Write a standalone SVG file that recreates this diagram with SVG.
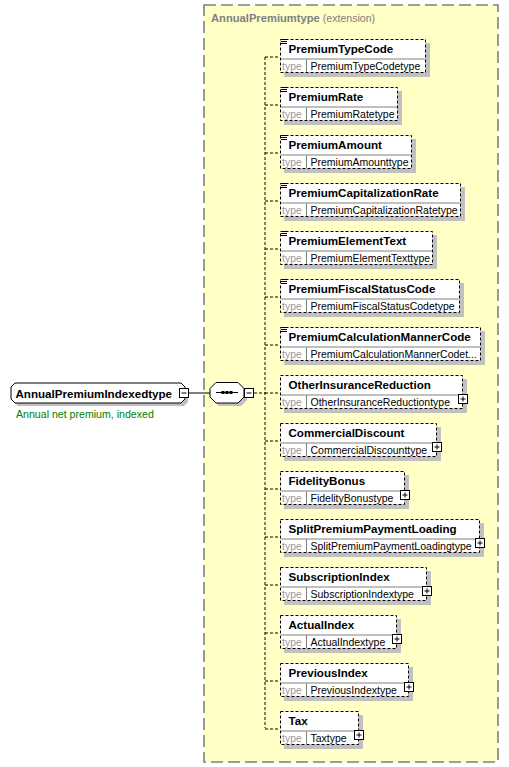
<svg xmlns="http://www.w3.org/2000/svg" width="509" height="767" viewBox="0 0 509 767">
<style>
text{font-family:"Liberation Sans",Arial,sans-serif}
.bg{fill:#fff}
.ext{fill:#FFFFC6;stroke:#808080;stroke-width:1.6;stroke-dasharray:12 5}
.title{font-size:11.2px;font-weight:bold;fill:#808080}
.titlex{font-size:10.6px;fill:#808080}
.sh{fill:#c0c0c0}
.box{fill:#fff;stroke:#000;stroke-width:1;stroke-dasharray:3 2}
.sep{stroke:#808080;stroke-width:1;fill:none}
.name{font-size:11.6px;font-weight:bold;fill:#000}
.tl{font-size:10.5px;fill:#999}
.tv{font-size:10.5px;fill:#000}
.con{stroke:#000;stroke-width:1;fill:none;stroke-dasharray:3 2}
.solid{stroke:#000;stroke-width:1;fill:none}
.pm{fill:#fff;stroke:#000;stroke-width:1}
.ico{stroke:#000;stroke-width:1}
.doc{font-size:10.6px;fill:#008000}
</style>
<rect class="bg" x="0" y="0" width="509" height="767"/>
<g id="extension">
<rect class="ext" x="204" y="5" width="294" height="757"/>
<text x="211" y="22"><tspan class="title">AnnualPremiumtype</tspan><tspan class="titlex"> (extension)</tspan></text>
</g>
<g id="connectors">
<line class="solid" x1="189" y1="393" x2="210" y2="393"/>
<line class="con" x1="254" y1="393" x2="265" y2="393"/>
<line class="con" x1="265" y1="57" x2="265" y2="728"/>
<line class="con" x1="265" y1="57" x2="280" y2="57"/>
<line class="con" x1="265" y1="105" x2="280" y2="105"/>
<line class="con" x1="265" y1="153" x2="280" y2="153"/>
<line class="con" x1="265" y1="201" x2="280" y2="201"/>
<line class="con" x1="265" y1="249" x2="280" y2="249"/>
<line class="con" x1="265" y1="297" x2="280" y2="297"/>
<line class="con" x1="265" y1="345" x2="280" y2="345"/>
<line class="con" x1="265" y1="393" x2="280" y2="393"/>
<line class="con" x1="265" y1="441" x2="280" y2="441"/>
<line class="con" x1="265" y1="489" x2="280" y2="489"/>
<line class="con" x1="265" y1="537" x2="280" y2="537"/>
<line class="con" x1="265" y1="585" x2="280" y2="585"/>
<line class="con" x1="265" y1="633" x2="280" y2="633"/>
<line class="con" x1="265" y1="681" x2="280" y2="681"/>
<line class="con" x1="265" y1="729" x2="280" y2="729"/>
</g>
<g id="root">
<path class="sh" d="M18,386 H184 L188,390 V402 L184,406 H18 L14,402 V390 Z"/>
<path fill="#fff" stroke="#000" d="M15,383 H181 L185,387 V399 L181,403 H15 L11,399 V387 Z"/>
<text class="name" x="15.5" y="397.5">AnnualPremiumIndexedtype</text>
<rect class="pm" x="179.5" y="388.5" width="9" height="9"/>
<line class="ico" x1="181.5" y1="393" x2="186.5" y2="393"/>
<text class="doc" x="16" y="417.5">Annual net premium, indexed</text>
</g>
<g id="sequence">
<path class="sh" d="M219,385 H241 L247,391 V400 L241,406 H219 L213,400 V391 Z"/>
<path fill="#fff" stroke="#000" d="M216,382.5 H238 L244,388.5 V397 L238,403 H216 L210,397 V388.5 Z"/>
<line class="solid" x1="216" y1="392.5" x2="238" y2="392.5"/>
<rect x="221.5" y="391" width="3" height="3" fill="#000"/>
<rect x="225.5" y="391" width="3" height="3" fill="#000"/>
<rect x="229.5" y="391" width="3" height="3" fill="#000"/>
<rect class="pm" x="244.5" y="388.5" width="9" height="9"/>
<line class="ico" x1="246.5" y1="393" x2="251.5" y2="393"/>
</g>
<g id="e0">
<rect class="sh" x="284" y="43" width="146" height="34"/>
<rect class="box" x="280.5" y="39.5" width="145" height="33"/>
<line class="sep" x1="281" y1="59" x2="425" y2="59"/><line class="sep" x1="306.5" y1="59" x2="306.5" y2="72"/>
<line class="ico" x1="281" y1="39.5" x2="287" y2="39.5"/><line class="ico" x1="281" y1="41.5" x2="287" y2="41.5"/><line class="ico" x1="281" y1="43.5" x2="287" y2="43.5"/>
<text class="name" x="288.5" y="52.5">PremiumTypeCode</text>
<text class="tl" x="282" y="69.5">type</text><text class="tv" x="310.5" y="69.5">PremiumTypeCodetype</text>
</g>
<g id="e1">
<rect class="sh" x="284" y="91" width="118" height="34"/>
<rect class="box" x="280.5" y="87.5" width="117" height="33"/>
<line class="sep" x1="281" y1="107" x2="397" y2="107"/><line class="sep" x1="306.5" y1="107" x2="306.5" y2="120"/>
<line class="ico" x1="281" y1="87.5" x2="287" y2="87.5"/><line class="ico" x1="281" y1="89.5" x2="287" y2="89.5"/><line class="ico" x1="281" y1="91.5" x2="287" y2="91.5"/>
<text class="name" x="288.5" y="100.5">PremiumRate</text>
<text class="tl" x="282" y="117.5">type</text><text class="tv" x="310.5" y="117.5">PremiumRatetype</text>
</g>
<g id="e2">
<rect class="sh" x="284" y="139" width="132" height="34"/>
<rect class="box" x="280.5" y="135.5" width="131" height="33"/>
<line class="sep" x1="281" y1="155" x2="411" y2="155"/><line class="sep" x1="306.5" y1="155" x2="306.5" y2="168"/>
<line class="ico" x1="281" y1="135.5" x2="287" y2="135.5"/><line class="ico" x1="281" y1="137.5" x2="287" y2="137.5"/><line class="ico" x1="281" y1="139.5" x2="287" y2="139.5"/>
<text class="name" x="288.5" y="148.5">PremiumAmount</text>
<text class="tl" x="282" y="165.5">type</text><text class="tv" x="310.5" y="165.5">PremiumAmounttype</text>
</g>
<g id="e3">
<rect class="sh" x="284" y="187" width="181" height="34"/>
<rect class="box" x="280.5" y="183.5" width="180" height="33"/>
<line class="sep" x1="281" y1="203" x2="460" y2="203"/><line class="sep" x1="306.5" y1="203" x2="306.5" y2="216"/>
<line class="ico" x1="281" y1="183.5" x2="287" y2="183.5"/><line class="ico" x1="281" y1="185.5" x2="287" y2="185.5"/><line class="ico" x1="281" y1="187.5" x2="287" y2="187.5"/>
<text class="name" x="288.5" y="196.5">PremiumCapitalizationRate</text>
<text class="tl" x="282" y="213.5">type</text><text class="tv" x="310.5" y="213.5">PremiumCapitalizationRatetype</text>
</g>
<g id="e4">
<rect class="sh" x="284" y="235" width="153" height="34"/>
<rect class="box" x="280.5" y="231.5" width="152" height="33"/>
<line class="sep" x1="281" y1="251" x2="432" y2="251"/><line class="sep" x1="306.5" y1="251" x2="306.5" y2="264"/>
<line class="ico" x1="281" y1="231.5" x2="287" y2="231.5"/><line class="ico" x1="281" y1="233.5" x2="287" y2="233.5"/><line class="ico" x1="281" y1="235.5" x2="287" y2="235.5"/>
<text class="name" x="288.5" y="244.5">PremiumElementText</text>
<text class="tl" x="282" y="261.5">type</text><text class="tv" x="310.5" y="261.5">PremiumElementTexttype</text>
</g>
<g id="e5">
<rect class="sh" x="284" y="283" width="180" height="34"/>
<rect class="box" x="280.5" y="279.5" width="179" height="33"/>
<line class="sep" x1="281" y1="299" x2="459" y2="299"/><line class="sep" x1="306.5" y1="299" x2="306.5" y2="312"/>
<line class="ico" x1="281" y1="279.5" x2="287" y2="279.5"/><line class="ico" x1="281" y1="281.5" x2="287" y2="281.5"/><line class="ico" x1="281" y1="283.5" x2="287" y2="283.5"/>
<text class="name" x="288.5" y="292.5">PremiumFiscalStatusCode</text>
<text class="tl" x="282" y="309.5">type</text><text class="tv" x="310.5" y="309.5">PremiumFiscalStatusCodetype</text>
</g>
<g id="e6">
<rect class="sh" x="284" y="331" width="201" height="34"/>
<rect class="box" x="280.5" y="327.5" width="200" height="33"/>
<line class="sep" x1="281" y1="347" x2="480" y2="347"/><line class="sep" x1="306.5" y1="347" x2="306.5" y2="360"/>
<line class="ico" x1="281" y1="327.5" x2="287" y2="327.5"/><line class="ico" x1="281" y1="329.5" x2="287" y2="329.5"/><line class="ico" x1="281" y1="331.5" x2="287" y2="331.5"/>
<text class="name" x="288.5" y="340.5">PremiumCalculationMannerCode</text>
<text class="tl" x="282" y="357.5">type</text><text class="tv" x="310.5" y="357.5">PremiumCalculationMannerCodet...</text>
</g>
<g id="e7">
<rect class="sh" x="284" y="379" width="183" height="34"/>
<rect class="box" x="280.5" y="375.5" width="182" height="33"/>
<line class="sep" x1="281" y1="395" x2="462" y2="395"/><line class="sep" x1="306.5" y1="395" x2="306.5" y2="408"/>
<text class="name" x="288.5" y="388.5">OtherInsuranceReduction</text>
<text class="tl" x="282" y="405.5">type</text><text class="tv" x="310.5" y="405.5">OtherInsuranceReductiontype</text>
<rect class="pm" x="458.5" y="394.5" width="9" height="9"/><line class="ico" x1="460.5" y1="399" x2="465.5" y2="399"/><line class="ico" x1="463" y1="396.5" x2="463" y2="401.5"/>
</g>
<g id="e8">
<rect class="sh" x="284" y="427" width="157" height="34"/>
<rect class="box" x="280.5" y="423.5" width="156" height="33"/>
<line class="sep" x1="281" y1="443" x2="436" y2="443"/><line class="sep" x1="306.5" y1="443" x2="306.5" y2="456"/>
<text class="name" x="288.5" y="436.5">CommercialDiscount</text>
<text class="tl" x="282" y="453.5">type</text><text class="tv" x="310.5" y="453.5">CommercialDiscounttype</text>
<rect class="pm" x="432.5" y="442.5" width="9" height="9"/><line class="ico" x1="434.5" y1="447" x2="439.5" y2="447"/><line class="ico" x1="437" y1="444.5" x2="437" y2="449.5"/>
</g>
<g id="e9">
<rect class="sh" x="284" y="475" width="125" height="34"/>
<rect class="box" x="280.5" y="471.5" width="124" height="33"/>
<line class="sep" x1="281" y1="491" x2="404" y2="491"/><line class="sep" x1="306.5" y1="491" x2="306.5" y2="504"/>
<text class="name" x="288.5" y="484.5">FidelityBonus</text>
<text class="tl" x="282" y="501.5">type</text><text class="tv" x="310.5" y="501.5">FidelityBonustype</text>
<rect class="pm" x="400.5" y="490.5" width="9" height="9"/><line class="ico" x1="402.5" y1="495" x2="407.5" y2="495"/><line class="ico" x1="405" y1="492.5" x2="405" y2="497.5"/>
</g>
<g id="e10">
<rect class="sh" x="284" y="523" width="200" height="34"/>
<rect class="box" x="280.5" y="519.5" width="199" height="33"/>
<line class="sep" x1="281" y1="539" x2="479" y2="539"/><line class="sep" x1="306.5" y1="539" x2="306.5" y2="552"/>
<text class="name" x="288.5" y="532.5">SplitPremiumPaymentLoading</text>
<text class="tl" x="282" y="549.5">type</text><text class="tv" x="310.5" y="549.5">SplitPremiumPaymentLoadingtype</text>
<rect class="pm" x="475.5" y="538.5" width="9" height="9"/><line class="ico" x1="477.5" y1="543" x2="482.5" y2="543"/><line class="ico" x1="480" y1="540.5" x2="480" y2="545.5"/>
</g>
<g id="e11">
<rect class="sh" x="284" y="571" width="147" height="34"/>
<rect class="box" x="280.5" y="567.5" width="146" height="33"/>
<line class="sep" x1="281" y1="587" x2="426" y2="587"/><line class="sep" x1="306.5" y1="587" x2="306.5" y2="600"/>
<text class="name" x="288.5" y="580.5">SubscriptionIndex</text>
<text class="tl" x="282" y="597.5">type</text><text class="tv" x="310.5" y="597.5">SubscriptionIndextype</text>
<rect class="pm" x="422.5" y="586.5" width="9" height="9"/><line class="ico" x1="424.5" y1="591" x2="429.5" y2="591"/><line class="ico" x1="427" y1="588.5" x2="427" y2="593.5"/>
</g>
<g id="e12">
<rect class="sh" x="284" y="619" width="117" height="34"/>
<rect class="box" x="280.5" y="615.5" width="116" height="33"/>
<line class="sep" x1="281" y1="635" x2="396" y2="635"/><line class="sep" x1="306.5" y1="635" x2="306.5" y2="648"/>
<text class="name" x="288.5" y="628.5">ActualIndex</text>
<text class="tl" x="282" y="645.5">type</text><text class="tv" x="310.5" y="645.5">ActualIndextype</text>
<rect class="pm" x="392.5" y="634.5" width="9" height="9"/><line class="ico" x1="394.5" y1="639" x2="399.5" y2="639"/><line class="ico" x1="397" y1="636.5" x2="397" y2="641.5"/>
</g>
<g id="e13">
<rect class="sh" x="284" y="667" width="129" height="34"/>
<rect class="box" x="280.5" y="663.5" width="128" height="33"/>
<line class="sep" x1="281" y1="683" x2="408" y2="683"/><line class="sep" x1="306.5" y1="683" x2="306.5" y2="696"/>
<text class="name" x="288.5" y="676.5">PreviousIndex</text>
<text class="tl" x="282" y="693.5">type</text><text class="tv" x="310.5" y="693.5">PreviousIndextype</text>
<rect class="pm" x="404.5" y="682.5" width="9" height="9"/><line class="ico" x1="406.5" y1="687" x2="411.5" y2="687"/><line class="ico" x1="409" y1="684.5" x2="409" y2="689.5"/>
</g>
<g id="e14">
<rect class="sh" x="284" y="715" width="79" height="34"/>
<rect class="box" x="280.5" y="711.5" width="78" height="33"/>
<line class="sep" x1="281" y1="731" x2="358" y2="731"/><line class="sep" x1="306.5" y1="731" x2="306.5" y2="744"/>
<text class="name" x="288.5" y="724.5">Tax</text>
<text class="tl" x="282" y="741.5">type</text><text class="tv" x="310.5" y="741.5">Taxtype</text>
<rect class="pm" x="354.5" y="730.5" width="9" height="9"/><line class="ico" x1="356.5" y1="735" x2="361.5" y2="735"/><line class="ico" x1="359" y1="732.5" x2="359" y2="737.5"/>
</g>
</svg>
